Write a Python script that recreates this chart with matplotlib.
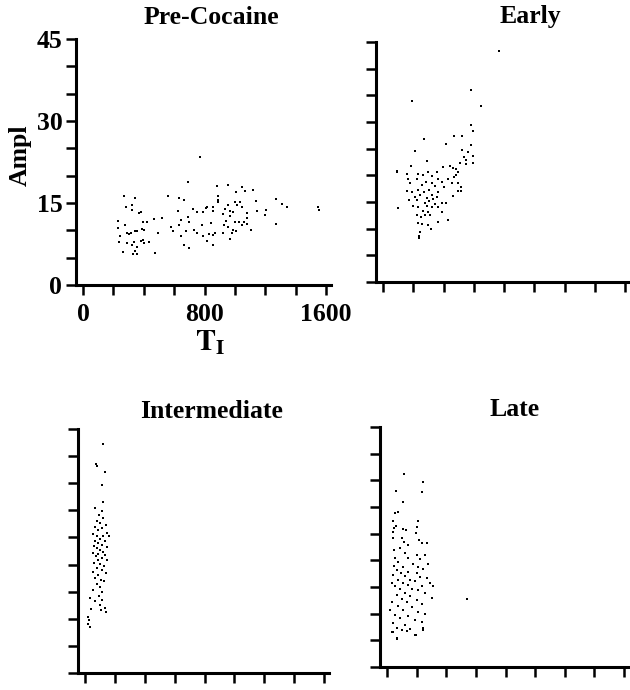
import matplotlib
matplotlib.use("Agg")
import matplotlib.pyplot as plt
import numpy as np

# ---------------- data (TI, Ampl) ----------------
pre_ti = [232, 232, 243, 239, 265, 272, 281, 274, 287, 287, 303, 314, 325, 325, 344, 320, 336, 353,
          342, 331, 353, 340, 357, 368, 382, 393, 390, 379, 393, 401, 419, 399, 436, 469, 471, 491,
          518, 561, 577, 594, 632, 627, 664, 643, 634, 645, 664, 700, 691, 678, 693, 700, 726, 748,
          732, 748, 770, 884, 952, 1050, 1066, 1121, 1007, 890, 890, 886, 814, 807, 857, 857, 787,
          934, 956, 1000, 1015, 1037, 1048, 971, 989, 1138, 1143, 1204, 1197, 1274, 1307, 1344,
          1548, 1553, 919, 971, 1077, 1083, 941, 781, 846, 926, 956, 1000, 1029, 1044, 1061, 1077,
          1274, 1103, 989, 1007, 978, 919, 868, 857, 829, 787, 818, 971, 857]
pre_amp = [11.7, 10.4, 9.0, 7.8, 6.1, 16.3, 14.2, 11.0, 9.6, 7.6, 9.3, 9.6, 14.6, 13.8, 16.0, 7.3,
           7.8, 7.0, 6.2, 5.6, 5.6, 9.8, 9.9, 13.1, 13.4, 11.6, 10.2, 8.1, 8.2, 7.7, 11.5, 10.1, 7.9,
           12.1, 5.8, 9.6, 12.3, 16.3, 10.7, 9.9, 16.0, 13.5, 15.6, 11.9, 11.0, 9.0, 7.4, 6.8, 18.9,
           9.8, 12.5, 11.6, 13.9, 13.4, 10.1, 9.5, 23.5, 18.2, 18.3, 17.9, 17.2, 17.4, 17.1, 16.2,
           15.6, 15.1, 14.3, 14.0, 14.3, 13.5, 13.4, 13.9, 14.6, 15.1, 14.6, 15.1, 14.3, 13.5, 13.4,
           15.4, 13.5, 13.7, 12.8, 15.7, 14.9, 14.3, 14.3, 13.7, 12.9, 12.6, 13.1, 12.3, 11.7, 11.0,
           11.4, 11.0, 10.7, 11.5, 11.5, 10.9, 11.5, 11.1, 11.1, 10.1, 10.1, 9.8, 9.6, 9.5, 9.5,
           9.2, 9.3, 9.0, 8.1, 8.4, 7.3]

early_ti = [768, 585, 194, 645, 585, 596, 271, 469, 524, 416, 581, 524, 559, 211, 596, 535, 552, 293,
            596, 508, 183, 552, 442, 398, 464, 482, 90, 90, 354, 299, 156, 233, 266, 321, 497, 480,
            469, 431, 365, 387, 222, 167, 178, 284, 321, 453, 497, 519, 255, 343, 405, 156, 189, 229,
            306, 273, 365, 497, 515, 464, 172, 211, 244, 321, 288, 332, 354, 222, 277, 304, 343, 387,
            416, 200, 233, 288, 321, 365, 101, 266, 299, 387, 277, 222, 251, 310, 361, 427, 233, 255,
            295, 317, 244, 240, 240]
early_amp = [43.3, 36.0, 34.0, 33.0, 29.5, 28.4, 26.9, 27.4, 27.4, 25.8, 25.6, 24.8, 24.4, 24.6, 23.6,
             23.5, 22.9, 22.7, 22.4, 22.4, 21.8, 22.1, 21.7, 21.5, 21.4, 21.1, 20.9, 20.6, 20.7, 20.6,
             20.2, 20.2, 20.1, 19.9, 20.7, 20.1, 19.6, 19.4, 19.3, 18.8, 19.3, 19.3, 18.5, 18.8, 18.6,
             18.6, 18.5, 17.8, 18.1, 18.0, 17.8, 17.1, 16.9, 17.3, 17.3, 16.8, 16.9, 17.1, 17.1, 16.1,
             15.4, 16.0, 16.3, 16.3, 15.7, 15.5, 16.0, 15.3, 14.9, 15.1, 14.6, 14.9, 14.9, 14.3, 14.1,
             14.3, 14.0, 14.0, 13.9, 13.4, 13.2, 13.2, 12.6, 12.6, 12.1, 12.6, 11.3, 11.7, 11.0, 10.9,
             10.7, 9.9, 9.4, 8.6, 8.2]

inter_ti = [122, 73, 82, 133, 111, 122, 67, 111, 93, 122, 78, 100, 138, 67, 111, 89, 144, 55, 78,
            122, 160, 100, 67, 133, 89, 111, 62, 144, 78, 100, 122, 55, 89, 133, 71, 111, 144, 84,
            62, 100, 129, 78, 111, 55, 138, 89, 67, 106, 129, 78, 100, 55, 111, 93, 33, 111, 67, 100,
            133, 40, 106, 138, 22, 27, 18, 33]
inter_amp = [42.2, 38.5, 38.2, 37.1, 34.7, 31.6, 30.5, 29.8, 29.2, 28.6, 28.0, 27.6, 27.3, 27.0,
             26.7, 26.3, 25.9, 25.7, 25.3, 25.2, 25.3, 24.7, 24.4, 24.3, 24.0, 23.6, 23.5, 23.3, 23.0,
             22.7, 22.4, 22.2, 22.0, 21.8, 21.5, 21.2, 20.9, 20.8, 20.3, 20.1, 19.8, 19.3, 19.0, 18.7,
             18.5, 18.1, 17.5, 17.2, 16.9, 16.4, 15.8, 15.3, 15.0, 14.2, 13.8, 13.5, 13.2, 12.6, 12.0,
             11.8, 11.7, 11.3, 10.4, 9.7, 9.1, 8.5]

late_ti = [117, 245, 59, 234, 110, 72, 54, 212, 43, 59, 50, 110, 126, 43, 205, 193, 43, 99, 216,
           117, 234, 268, 144, 88, 50, 122, 200, 257, 54, 140, 223, 76, 178, 279, 50, 110, 212, 245,
           65, 144, 95, 200, 43, 122, 223, 268, 76, 155, 189, 32, 110, 290, 140, 234, 54, 88, 167,
           313, 212, 122, 257, 65, 155, 302, 538, 99, 200, 32, 133, 234, 76, 167, 110, 20, 212, 257,
           54, 144, 88, 189, 234, 43, 122, 65, 155, 99, 245, 32, 133, 189, 65, 67, 196, 243, 41]
late_amp = [36.2, 34.6, 33.0, 32.9, 31.0, 29.1, 28.8, 27.4, 27.4, 26.4, 26.0, 25.8, 25.6, 25.4, 26.2,
            25.2, 24.1, 24.1, 23.9, 23.5, 23.2, 23.3, 22.9, 22.4, 21.9, 21.3, 21.0, 21.0, 20.4, 20.4,
            20.2, 19.6, 19.4, 19.3, 18.9, 18.8, 18.7, 18.3, 18.1, 17.9, 17.6, 17.6, 17.2, 17.1, 16.9,
            16.6, 16.4, 16.3, 16.2, 15.8, 15.7, 15.7, 15.4, 15.2, 15.1, 14.7, 14.6, 15.2, 14.4, 13.9,
            13.8, 13.5, 13.3, 13.0, 12.7, 12.7, 12.6, 12.2, 12.1, 11.8, 11.4, 11.3, 10.7, 10.6, 10.4,
            9.9, 9.7, 9.5, 9.1, 8.8, 8.5, 8.2, 7.9, 7.4, 7.2, 7.0, 6.9, 6.6, 6.8, 6.0, 5.4, 5.3, 6.0,
            7.3, 6.6]

titles = ["Pre-Cocaine", "Early", "Intermediate", "Late"]
x_tick_labels = ["0", "800", "1600"]
y_tick_labels = ["0", "15", "30", "45"]

# ---------------- style ----------------
plt.rcParams['font.family'] = ['Liberation Serif', 'DejaVu Serif']
plt.rcParams['font.weight'] = 'bold'
plt.rcParams['mathtext.fontset'] = 'stix'
FS = 18.5
W, H = 630, 690
fig = plt.figure(figsize=(W / 100, H / 100), dpi=100)

# per panel: x-pixel of TI=0, x-pixel of TI=1600, top pixel, bottom pixel
layout = [(83, 326, 39, 285), (383, 625, 42, 282), (85, 324, 429, 673), (387, 624, 427, 667)]
title_pos = [(211, 17), (530, 17), (212, 411), (515, 410)]
XL = (-45, 1635)
series = [(pre_ti, pre_amp), (early_ti, early_amp), (inter_ti, inter_amp), (late_ti, late_amp)]

for i, ((x0, x16, top, bot), (tx, ty), (xs, ys)) in enumerate(zip(layout, title_pos, series)):
    s = (x16 - x0) / 1600.0
    left = x0 + XL[0] * s
    right = min(x0 + XL[1] * s, W - 1)
    ax = fig.add_axes([left / W, 1 - bot / H, (right - left) / W, (bot - top) / H])
    ax.scatter(xs, ys, s=4.5, marker='s', c='black', linewidths=0)
    ax.set_xlim(XL[0], (right - x0) / s)
    ax.set_ylim(0, 45)
    for sp in ['top', 'right']:
        ax.spines[sp].set_visible(False)
    for sp in ['left', 'bottom']:
        ax.spines[sp].set_linewidth(2.2)
    ax.set_xticks(np.arange(0, 1601, 200))
    ax.set_yticks(np.arange(0, 46, 5))
    ax.tick_params(direction='out', length=7, width=1.8, pad=5)
    if i == 0:
        ax.set_yticklabels([str(v) if str(v) in y_tick_labels else "" for v in range(0, 46, 5)],
                           fontsize=FS, fontweight='bold')
        ax.set_xticklabels([str(v) if str(v) in x_tick_labels else "" for v in range(0, 1601, 200)],
                           fontsize=FS, fontweight='bold')
        ax.tick_params(axis='x', pad=6)
        ax.tick_params(axis='y', pad=3)
    else:
        ax.set_xticklabels([])
        ax.set_yticklabels([])
    fig.text(tx / W, 1 - ty / H, titles[i], ha='center', va='center', fontsize=FS, fontweight='bold')

fig.text(20 / W, 1 - 155 / H, "Ampl", rotation=90, ha='center', va='center', fontsize=FS,
         fontweight='bold')
fig.text(210 / W, 1 - 343 / H, r"$\mathbf{T}_{\mathbf{I}}$", ha='center', va='center',
         fontsize=FS + 3)

fig.savefig("out.png", dpi=100, facecolor='white')
